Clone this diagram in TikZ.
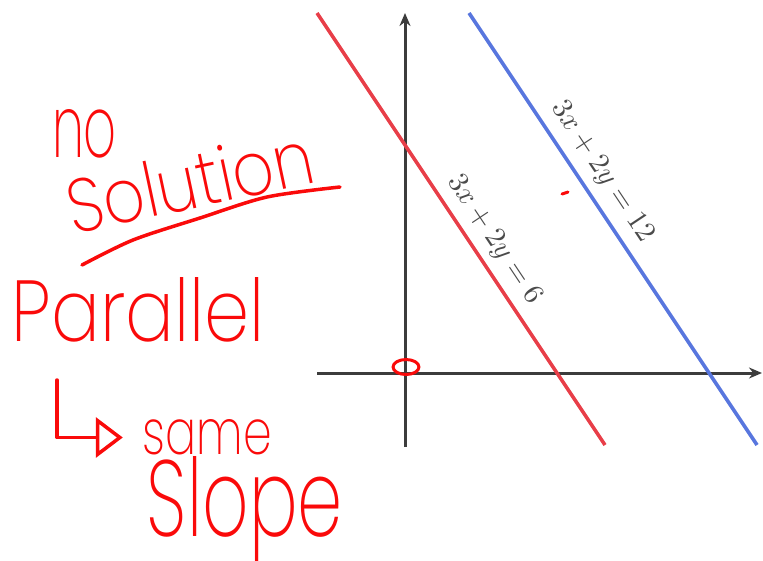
\documentclass[tikz,border=0pt]{standalone}
\usepackage{fontspec}
\usepackage{graphicx}
\usetikzlibrary{arrows.meta}
\newfontfamily\hand{Poppins}[UprightFont={* ExtraLight}]
\definecolor{pen}{RGB}{250,10,10}
\definecolor{redline}{RGB}{232,62,72}
\definecolor{blueline}{RGB}{88,118,222}
\definecolor{axisgray}{RGB}{60,60,60}
\definecolor{labelgray}{RGB}{75,75,75}
\begin{document}
\begin{tikzpicture}[x=1pt,y=-1pt,
  axisline/.style={axisgray,line width=3pt,-{Stealth[length=13pt,width=11pt]}},
  graphline/.style={line width=3.6pt},
  eqlabel/.style={text=labelgray,rotate=-56.31,inner sep=0},
  penstroke/.style={pen,line width=3.5pt,line cap=round,line join=round},
  handtext/.style={text=pen,inner sep=0,font=\hand},
]
\useasboundingbox (0,0) rectangle (763,560);
% axes
\coordinate (xl) at (317,373);
\coordinate (xr) at (762,373);
\coordinate (yb) at (405,447);
\coordinate (yt) at (405,13);
\draw[axisline] (xl) -- (xr);
\draw[axisline] (yb) -- (yt);
% lines
\coordinate (r1) at (317,13);
\coordinate (r2) at (605,445);
\coordinate (b1) at (469,13);
\coordinate (b2) at (757,445);
\draw[graphline,redline] (r1) -- (r2);
\draw[graphline,blueline] (b1) -- (b2);
\node[eqlabel] (lab6) at (494,240) {\scalebox{2.9}{$3x + 2y = 6$}};
\node[eqlabel] (lab12) at (602,172) {\scalebox{2.9}{$3x + 2y = 12$}};
% hand marks on graph
\draw[penstroke,line width=3pt] (406,367) ellipse [x radius=13, y radius=7.5];
\draw[penstroke,line width=3pt] (562,194) -- (568,192);
% handwriting
\node[handtext] (no) at (84.5,134) {\resizebox{65pt}{48pt}{no}};
\node[handtext,rotate=12] (solution) at (190,181) {\resizebox{250pt}{56pt}{Solution}};
\draw[penstroke] plot[smooth] coordinates {(82,265) (133,240) (200,218) (267,197) (340,187)};
\node[handtext] (parallel) at (138.5,310) {\resizebox{253pt}{64pt}{Parallel}};
\node[handtext] (same) at (207.5,437.5) {\resizebox{129pt}{35pt}{same}};
\node[handtext] (slope) at (245,510) {\resizebox{196pt}{80pt}{Slope}};
\coordinate (Ltop) at (57,380);
\draw[penstroke,-{Triangle[open,length=27pt,width=40pt]}] (Ltop) |- ([xshift=-20pt]same.west);
\end{tikzpicture}
\end{document}
